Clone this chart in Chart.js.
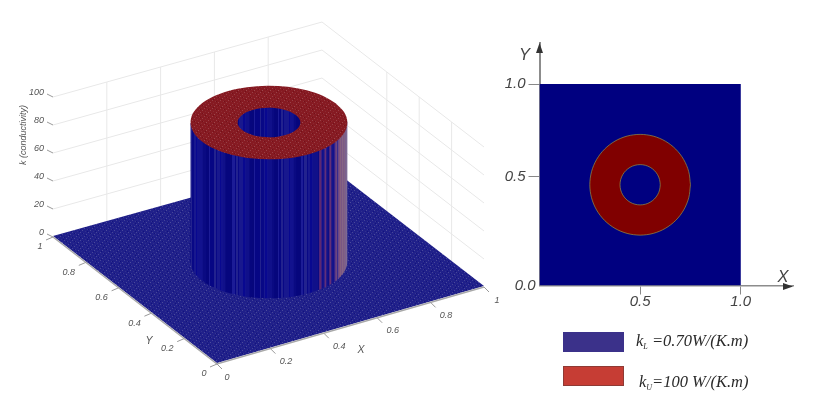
<!DOCTYPE html>
<html>
<head>
<meta charset="utf-8">
<title>Conductivity field k(X, Y)</title>
<style>
html,body{margin:0;padding:0;background:#fff;width:831px;height:397px;overflow:hidden}
canvas{position:absolute;top:0}
#surface{left:0}
#map{left:500px}
</style>
<script src="https://cdn.jsdelivr.net/npm/chart.js@4/dist/chart.umd.min.js"></script>
</head>
<body>
<canvas id="surface" width="510" height="397"></canvas>
<canvas id="map" width="331" height="397"></canvas>
<script>
// ---------- data ----------
const kLower = 0.70;
const kUpper = 100;
const axisX = [0, 0.2, 0.4, 0.6, 0.8, 1];
const axisY = [0, 0.2, 0.4, 0.6, 0.8, 1];
const axisZ = [0, 20, 40, 60, 80, 100];
const axisXLabels = ['0', '0.2', '0.4', '0.6', '0.8', '1'];
const axisYLabels = ['0', '0.2', '0.4', '0.6', '0.8', '1'];
const axisZLabels = ['0', '20', '40', '60', '80', '100'];
const wallX = [0.2, 0.4, 0.6, 0.8];
const wallY = [0.2, 0.4, 0.6];
const domainX = [0, 1, 1, 0, 0];
const domainY = [0, 0, 1, 1, 0];
const outerX = [.75,.7415,.7165,.6768,.625,.5647,.5,.4353,.375,.3232,.2835,.2585,.25,.2585,.2835,.3232,.375,.4353,.5,.5647,.625,.6768,.7165,.7415,.75];
const outerY = [.5,.5647,.625,.6768,.7165,.7415,.75,.7415,.7165,.6768,.625,.5647,.5,.4353,.375,.3232,.2835,.2585,.25,.2585,.2835,.3232,.375,.4353,.5];
const innerX = [.6,.5966,.5866,.5707,.55,.5259,.5,.4741,.45,.4293,.4134,.4034,.4,.4034,.4134,.4293,.45,.4741,.5,.5259,.55,.5707,.5866,.5966,.6];
const innerY = [.5,.5259,.55,.5707,.5866,.5966,.6,.5966,.5866,.5707,.55,.5259,.5,.4741,.45,.4293,.4134,.4034,.4,.4034,.4134,.4293,.45,.4741,.5];
const mapTicksX = [0.5, 1.0];
const mapTicksY = [0.54, 1.0];
const mapLabelsX = ['0.5', '1.0'];
const mapLabelsY = ['0.5', '1.0'];
const legendSymbols = ['k', 'k'];
const legendSubscripts = ['L', 'U'];
const legendTexts = [' =0.70W/(K.m)', '=100 W/(K.m)'];
const legendColors = ['#3b318a', '#c63d34'];
const legendEdges = ['#3b318a', '#8f3a34'];

// ---------- view of the 3-D box (figure units) ----------
function viewX(x, y) { return 217 + 267 * x - 164 * y + 2 * x * y; }
function viewY(x, y, z) { return 364 - 77 * x - 127 * y + 2 * x * y - 1.4 * z; }
function P(x, y, z) { return { x: viewX(x, y), y: viewY(x, y, z) }; }
const GAP = { x: null, y: null };

// ---------- textures ----------
function tile(w, h, base, dots) {
  const c = document.createElement('canvas');
  c.width = w; c.height = h;
  const g = c.getContext('2d');
  g.fillStyle = base; g.fillRect(0, 0, w, h);
  dots.forEach(d => { g.fillStyle = d[2]; g.fillRect(d[0], d[1], 1, 1); });
  return g.createPattern(c, 'repeat');
}
const floorDots = [[0,0,'#45459a'],[3,1,'#36368f'],[6,2,'#4a4a9c'],[1,3,'#30308c'],[4,4,'#45459a'],[7,5,'#36368f'],[2,6,'#4a4a9c'],[5,7,'#30308c'],[2,1,'#12127e'],[5,3,'#12127e'],[0,5,'#12127e'],[7,7,'#12127e']];
const floorTex = tile(8, 8, '#20208a', floorDots);
const ringTex = tile(8, 8, '#861a22', [[0,0,'#9a4046'],[3,1,'#903038'],[6,2,'#9e484c'],[1,3,'#8c2a31'],[4,4,'#9a4046'],[7,5,'#903038'],[2,6,'#9a4046'],[5,7,'#8c2a31'],[2,1,'#741018'],[5,3,'#741018'],[0,5,'#741018']]);

function wallTexture() {
  const c = document.createElement('canvas');
  c.width = 510; c.height = 1;
  const g = c.getContext('2d');
  const shades = ['#06067e','#12128e','#080886','#1c1c96','#0a0a82','#080890','#22228e','#06067c','#10108a','#18188e','#060684'];
  const widths = [3,1,2,1,4,2,1,3,1,2,2,1,5,1];
  let x = 0, i = 0;
  while (x < 510) {
    const w = widths[i % widths.length];
    g.fillStyle = shades[(i * 7) % shades.length];
    g.fillRect(x, 0, w, 1);
    x += w; i++;
  }
  g.fillStyle = '#4a4a98'; g.fillRect(189, 0, 1, 1);
  ['#50247a','#5c2870','#3a1e84','#10108a','#14148c','#3a2084','#60307a','#2a1a86','#12128a','#0e0e84','#48247c','#643076','#2e1c84','#14148a','#12128a','#32208a','#5c3a84','#6c4680','#3a2a8c','#6a4a86','#7e5080','#84607e','#7a5684','#866684','#7c5a86','#806284','#7a6090','#7e6a92','#6c5a96','#66589c'].forEach((col, k) => {
    g.fillStyle = col; g.fillRect(319 + k, 0, 1, 1);
  });
  return g.createPattern(c, 'repeat');
}
const wallTex = wallTexture();

// ---------- helpers ----------
function shape(points, fill, extra) {
  return Object.assign({
    data: points, showLine: true, fill: 'shape', backgroundColor: fill,
    borderWidth: 0, borderColor: 'rgba(0,0,0,0)', pointRadius: 0, tension: 0
  }, extra || {});
}
function stroke(points, color, width) {
  return { data: points, showLine: true, fill: false, borderColor: color, borderWidth: width,
           pointRadius: 0, tension: 0, spanGaps: false };
}
function stack(list) { return list.map((d, i) => Object.assign(d, { order: list.length - i })); }
function contour(xs, ys, z) { return xs.map((x, i) => P(x, ys[i], z)); }
const commonPlugins = { legend: { display: false }, tooltip: { enabled: false }, filler: { drawTime: 'beforeDatasetDraw' } };

// ---------- 3-D surface ----------
const wallLines = [];
axisZ.slice(1).forEach(z => wallLines.push(P(0, 1, z), P(1, 1, z), P(1, 0, z), GAP));
wallX.forEach(x => wallLines.push(P(x, 1, 0), P(x, 1, kUpper), GAP));
wallY.forEach(y => wallLines.push(P(1, y, 0), P(1, y, kUpper), GAP));

const tickLines = [];
axisZ.forEach(z => { const p = P(0, 1, z); tickLines.push(p, { x: p.x - 6, y: p.y - 3 }, GAP); });
axisY.forEach(y => { const p = P(0, y, 0); tickLines.push(p, { x: p.x - 7, y: p.y + 3 }, GAP); });
axisX.forEach(x => { const p = P(x, 0, 0); tickLines.push(p, { x: p.x + 5, y: p.y + 5 }, GAP); });

const edgeA = P(outerX[10], outerY[10], kLower), edgeB = P(outerX[22], outerY[22], kLower);
const edgeC = P(outerX[22], outerY[22], kUpper), edgeD = P(outerX[10], outerY[10], kUpper);

const surfaceLabels = {
  id: 'surfaceLabels',
  afterDatasetsDraw(chart) {
    const c = chart.ctx, sx = chart.scales.x, sy = chart.scales.y;
    const put = (p, dx, dy, text, align) => {
      c.textAlign = align || 'center';
      c.fillText(text, sx.getPixelForValue(p.x) + dx, sy.getPixelForValue(p.y) + dy);
    };
    c.save();
    c.font = 'italic 9px "Liberation Sans", Arial, sans-serif';
    c.fillStyle = '#555';
    c.textBaseline = 'middle';
    axisZ.forEach((z, i) => put(P(0, 1, z), -9, -5, axisZLabels[i], 'right'));
    axisY.forEach((y, i) => {
      const long = axisYLabels[i].length > 1;
      put(P(0, y, 0), long ? -17 : -13, long ? 10 : 9.5, axisYLabels[i]);
    });
    axisX.forEach((x, i) => {
      const long = axisXLabels[i].length > 1;
      put(P(x, 0, 0), long ? 15.5 : (x === 0 ? 10 : 13), 13, axisXLabels[i]);
    });
    c.font = 'italic 10.5px "Liberation Sans", Arial, sans-serif';
    put(P(0.5, 0, 0), 10.5, 24.5, 'X');
    c.fillText('Y', 149, 341);
    c.translate(23, 135);
    c.rotate(-Math.PI / 2);
    c.font = 'italic 9px "Liberation Sans", Arial, sans-serif';
    c.textAlign = 'center';
    c.fillText('k (conductivity)', 0, 0);
    c.restore();
  }
};

new Chart(document.getElementById('surface'), {
  type: 'scatter',
  data: {
    datasets: stack([
      stroke(wallLines, '#e8e8e8', 1),
      shape(domainX.map((x, i) => P(x, domainY[i], kLower)), floorTex),
      stroke([P(0, 1, 0), P(0, 0, 0), P(1, 0, 0)], '#a8a8a8', 1.5),
      stroke(tickLines, '#999', 1),
      shape(contour(outerX, outerY, kLower), wallTex, { tension: 0.33 }),
      shape([edgeA, edgeB, edgeC, edgeD, edgeA], wallTex),
      shape(contour(outerX, outerY, kUpper), ringTex, { tension: 0.33 }),
      shape(contour(innerX, innerY, kUpper), wallTex, { tension: 0.33 })
    ])
  },
  options: {
    responsive: false, animation: false, events: [],
    layout: { padding: 0 },
    plugins: commonPlugins,
    scales: {
      x: { type: 'linear', display: false, min: 0, max: 510 },
      y: { type: 'linear', display: false, min: 0, max: 397, reverse: true }
    }
  },
  plugins: [surfaceLabels]
});

// ---------- 2-D map ----------
const mapDecor = {
  id: 'mapDecor',
  afterDraw(chart) {
    const c = chart.ctx, a = chart.chartArea;
    const x0 = chart.scales.x.getPixelForValue(0), y0 = chart.scales.y.getPixelForValue(0);
    c.save();
    c.fillStyle = '#333';
    c.beginPath(); c.moveTo(x0, a.top); c.lineTo(x0 - 3.5, a.top + 10); c.lineTo(x0 + 3.5, a.top + 10); c.closePath(); c.fill();
    c.beginPath(); c.moveTo(a.right, y0 + 1); c.lineTo(a.right - 10, y0 - 2.5); c.lineTo(a.right - 10, y0 + 4.5); c.closePath(); c.fill();
    c.fillStyle = '#444';
    c.textBaseline = 'middle';
    c.textAlign = 'right';
    c.font = 'italic 15px "Liberation Sans", Arial, sans-serif';
    c.fillText('0.0', x0 - 4, y0);
    c.textAlign = 'center';
    c.font = 'italic 16.5px "Liberation Sans", Arial, sans-serif';
    c.fillText('Y', x0 - 15, a.top + 12);
    c.fillText('X', a.right - 10, y0 - 8);

    // legend
    const boxX = 63, boxW = 61, boxH = 20, rows = [332, 366], textX = [136, 139], base = [346, 387];
    rows.forEach((top, i) => {
      c.fillStyle = legendColors[i];
      c.fillRect(boxX, top, boxW, boxH);
      c.strokeStyle = legendEdges[i];
      c.lineWidth = 1;
      c.strokeRect(boxX + 0.5, top + 0.5, boxW - 1, boxH - 1);
      c.textAlign = 'left';
      c.textBaseline = 'alphabetic';
      c.fillStyle = '#2a2a2a';
      c.font = 'italic 16.5px "Liberation Serif", "Times New Roman", serif';
      c.fillText(legendSymbols[i], textX[i], base[i]);
      const kw = c.measureText(legendSymbols[i]).width;
      c.font = 'italic 8px "Liberation Serif", "Times New Roman", serif';
      c.fillText(legendSubscripts[i], textX[i] + kw, base[i] + 3);
      const sw = c.measureText(legendSubscripts[i]).width;
      c.font = 'italic 16.5px "Liberation Serif", "Times New Roman", serif';
      c.fillText(legendTexts[i], textX[i] + kw + sw, base[i]);
    });
    c.restore();
  }
};

const EDGE = 'rgba(150,150,70,0.85)';
const mapFont = { family: '"Liberation Sans", Arial, sans-serif', size: 15, style: 'italic' };
new Chart(document.getElementById('map'), {
  type: 'scatter',
  data: {
    datasets: stack([
      shape(domainX.map((x, i) => ({ x, y: domainY[i] })), '#000080'),
      shape(outerX.map((x, i) => ({ x, y: outerY[i] })), '#800000', { tension: 0.33, borderColor: EDGE, borderWidth: 0.8 }),
      shape(innerX.map((x, i) => ({ x, y: innerY[i] })), '#000080', { tension: 0.33, borderColor: EDGE, borderWidth: 0.8 })
    ])
  },
  options: {
    responsive: false, animation: false, events: [],
    layout: { padding: { left: 0, right: 38, top: 43, bottom: 61.5 } },
    plugins: commonPlugins,
    scales: {
      x: {
        type: 'linear', min: 0, max: 1.2595,
        afterFit(s) { s.height = 50; },
        afterBuildTicks(s) { s.ticks = mapTicksX.map(value => ({ value })); },
        border: { display: true, color: '#8c8c8c', width: 1.5 },
        grid: { drawOnChartArea: false, drawTicks: true, tickLength: 9, tickColor: '#888', tickWidth: 1 },
        ticks: { autoSkip: false, maxRotation: 0, padding: -2, color: '#444', font: mapFont,
                 callback: (v, i) => mapLabelsX[i] }
      },
      y: {
        type: 'linear', min: 0, max: 1.2035,
        afterFit(s) { s.width = 39.5; },
        afterBuildTicks(s) { s.ticks = mapTicksY.map(value => ({ value })); },
        border: { display: true, color: '#8c8c8c', width: 2 },
        grid: { drawOnChartArea: false, drawTicks: true, tickLength: 11, tickColor: '#888', tickWidth: 1 },
        ticks: { autoSkip: false, padding: 3, color: '#444', font: mapFont,
                 callback: (v, i) => mapLabelsY[i] }
      }
    }
  },
  plugins: [mapDecor]
});
</script>
</body>
</html>
